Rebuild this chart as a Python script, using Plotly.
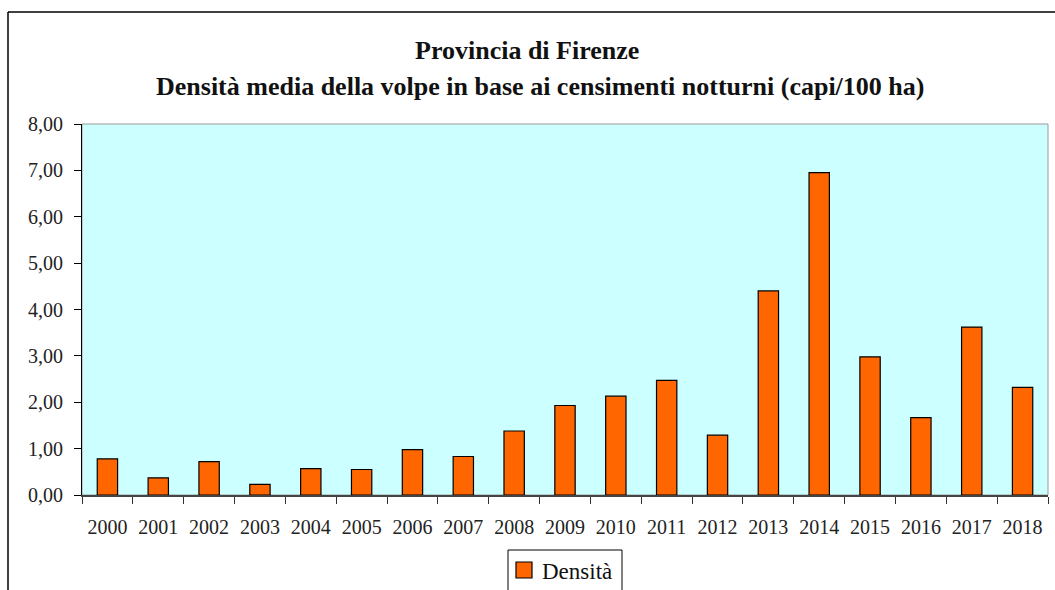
import plotly.graph_objects as go

# data
years = [str(y) for y in range(2000, 2019)]
densita = [0.78, 0.37, 0.72, 0.23, 0.57, 0.55, 0.98, 0.83, 1.38, 1.93,
           2.13, 2.47, 1.29, 4.40, 6.95, 2.98, 1.67, 3.62, 2.32]
y_ticks = [0, 1, 2, 3, 4, 5, 6, 7, 8]

title_1 = "Provincia di Firenze"
title_2 = "Densità media della volpe in base ai censimenti notturni (capi/100 ha)"
series_name = "Densità"

W, H = 1055, 590
L, R, T, B = 82, 7, 124, 95
pw, ph = W - L - R, H - T - B

BAR_COLOR = "#FF6600"
FONT = "Liberation Serif"


def px_x(x):
    return (x - L) / pw


def px_y(y):
    return (H - B - y) / ph


def paper_line(x0, y0, x1, y1, color="black", width=1.5):
    return dict(type="line", xref="paper", yref="paper",
                x0=px_x(x0), x1=px_x(x1), y0=px_y(y0), y1=px_y(y1),
                line=dict(color=color, width=width))


def paper_rect(x0, y0, x1, y1, fill, color="black", width=1):
    return dict(type="rect", xref="paper", yref="paper",
                x0=px_x(x0), x1=px_x(x1), y0=px_y(y0), y1=px_y(y1),
                fillcolor=fill, line=dict(color=color, width=width))


fig = go.Figure()
fig.add_trace(go.Bar(
    x=years,
    y=densita,
    name=series_name,
    width=0.4,
    marker=dict(color=BAR_COLOR, line=dict(color="black", width=1.2)),
))

fig.update_layout(
    width=W,
    height=H,
    margin=dict(l=L, r=R, t=T, b=B),
    paper_bgcolor="white",
    plot_bgcolor="#CCFFFF",
    separators=",.",
    font=dict(family=FONT, size=20, color="#222"),
    showlegend=False,
    annotations=[
        dict(text=f"<b>{title_1}</b>", x=px_x(527), y=px_y(50),
             xref="paper", yref="paper", showarrow=False,
             xanchor="center", yanchor="middle",
             font=dict(size=26, family=FONT, color="#111")),
        dict(text=f"<b>{title_2}</b>", x=px_x(540), y=px_y(87),
             xref="paper", yref="paper", showarrow=False,
             xanchor="center", yanchor="middle",
             font=dict(size=26, family=FONT, color="#111")),
        # legend label
        dict(text=series_name, x=px_x(540), y=px_y(571),
             xref="paper", yref="paper", showarrow=False,
             xanchor="left", yanchor="middle",
             font=dict(size=23, family=FONT, color="#111")),
    ],
    shapes=[
        # outer chart frame (top and left edges visible)
        paper_line(8, 12, W + 5, 12),
        paper_line(8, 12, 8, H + 5),
        # plot area border
        dict(type="rect", xref="paper", yref="paper",
             x0=0, x1=1, y0=0, y1=1, layer="below",
             line=dict(color="#999", width=1)),
        # legend box and swatch
        paper_rect(508, 550, 622, H + 5, "white"),
        paper_rect(516, 562, 532, 578, BAR_COLOR, width=1.2),
    ],
    bargap=0.6,
)

fig.update_xaxes(
    type="category",
    showgrid=False,
    showline=True, linecolor="#444", linewidth=1.5,
    ticks="outside", tickson="boundaries", ticklen=7, tickcolor="#333",
    ticklabelstandoff=13,
    tickangle=0,
    tickfont=dict(size=20, family=FONT, color="#222"),
    automargin=False,
)
fig.update_yaxes(
    range=[0, 8],
    tickvals=y_ticks,
    tickformat=".2f",
    showgrid=False, zeroline=False,
    showline=True, linecolor="black", linewidth=1,
    ticks="outside", ticklen=7, tickcolor="black",
    ticklabelstandoff=7,
    tickfont=dict(size=20, family=FONT, color="#222"),
    automargin=False,
)

fig.write_html("out.html", config={"displayModeBar": False},
               post_script="document.body.style.margin='0';")
